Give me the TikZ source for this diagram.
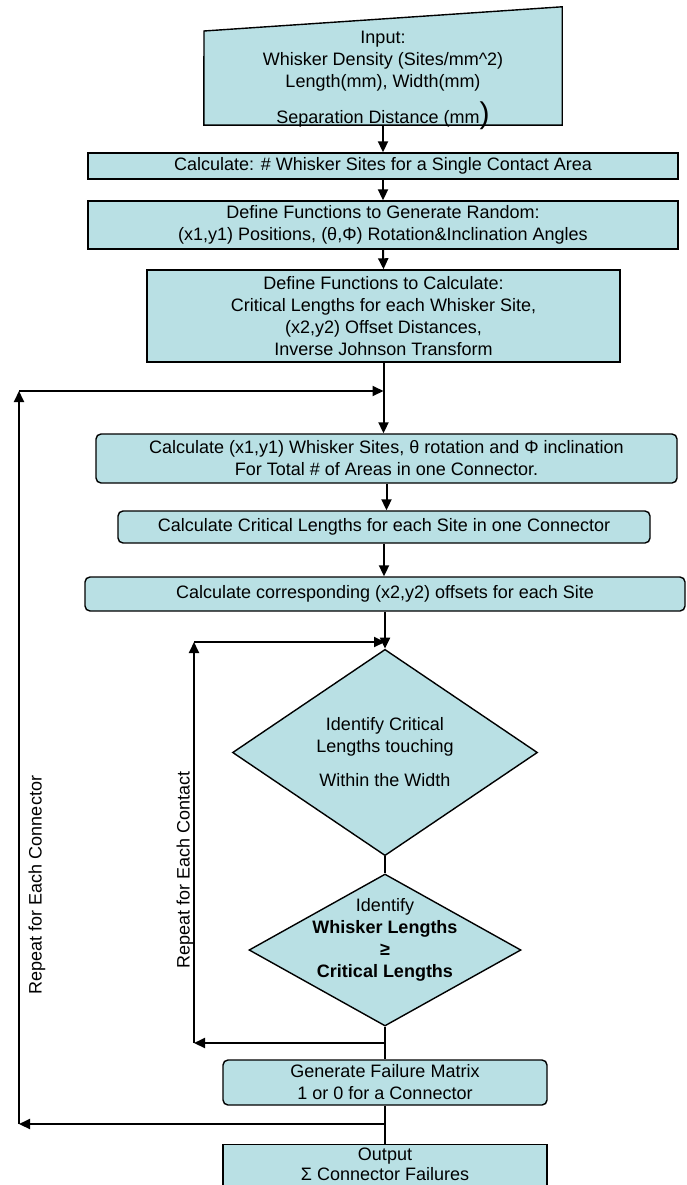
\documentclass[tikz,border=0pt]{standalone}
\usepackage{fontspec}
\setmainfont{Liberation Sans}
\usetikzlibrary{shapes.geometric,arrows.meta}
\definecolor{boxfill}{RGB}{185,224,228}
\begin{document}
\begin{tikzpicture}[x=1pt,y=-1pt,
  every node/.style={font=\fontsize{18}{22}\selectfont, align=center},
  sqbox/.style={draw, line width=1.4pt, fill=boxfill, inner sep=0pt, rectangle},
  rbox/.style={sqbox, rounded corners=5pt},
  dia/.style={draw, line width=1.4pt, fill=boxfill, diamond, inner sep=0pt},
  arr/.style={line width=2pt, -{Triangle[length=11pt,width=10pt]}},
  ln/.style={line width=2pt}]
\useasboundingbox (0,0) rectangle (686,1185);
\clip (0,0) rectangle (686,1185);

% input (manual input shape)
\node[inner sep=0pt, minimum width=358pt, minimum height=118pt] (in) at (383,66) {};
\draw[line width=1.4pt, fill=boxfill] (in.south west) -- (204,31) -- (in.north east) -- (in.south east) -- cycle;
\node[anchor=north, inner sep=0pt] (intext) at (383,30.5)
  {Input:\\Whisker Density (Sites/mm\^{}2)\\Length(mm), Width(mm)\\[10pt]Separation Distance (mm{\fontsize{30}{30}\selectfont )}};

\node[sqbox, minimum width=590pt, minimum height=26pt] (box2) at (383,166)
  {Calculate: \# Whisker Sites for a Single Contact Area};
\node[sqbox, minimum width=590pt, minimum height=48pt] (box3) at (383,225)
  {Define Functions to Generate Random:\\(x1,y1) Positions, (θ,Φ) Rotation\&Inclination Angles};
\node[sqbox, minimum width=473pt, minimum height=92pt] (box4) at (383.5,316)
  {Define Functions to Calculate:\\Critical Lengths for each Whisker Site,\\(x2,y2) Offset Distances,\\Inverse Johnson Transform};
\node[rbox, minimum width=581pt, minimum height=49pt] (box5) at (386.5,458.5)
  {Calculate (x1,y1) Whisker Sites, θ rotation and Φ inclination\\For Total \# of Areas in one Connector.};
\node[rbox, minimum width=532pt, minimum height=32pt] (box6) at (384,527)
  {Calculate Critical Lengths for each Site in one Connector};
\node[rbox, minimum width=600pt, minimum height=34pt] (box7) at (385,594)
  {Calculate corresponding (x2,y2) offsets for each Site};

\node[dia, minimum width=305pt, minimum height=185pt] (d1) at (385,752.5)
  {Identify Critical\\Lengths touching\\[12pt]Within the Width};
\node[dia, minimum width=272pt, minimum height=152pt] (d2) at (385,950) {};
\node[inner sep=0pt] (d2t) at (385,940)
  {Identify\\\textbf{Whisker Lengths}\\\textbf{≥}\\\textbf{Critical Lengths}};

\node[rbox, minimum width=324pt, minimum height=45pt] (gen) at (385,1082.5)
  {Generate Failure Matrix\\1 or 0 for a Connector};
\node[sqbox, anchor=north, minimum width=324pt, minimum height=60pt] (out) at (385,1144) {};
\node[anchor=north, inner sep=0pt, font=\fontsize{18}{19.5}\selectfont] (outtext) at (385,1148)
  {Output\\Σ Connector Failures};

\node[rotate=90] (rc) at (37,885) {Repeat for Each Connector};
\node[rotate=90] (rt) at (185,870) {Repeat for Each Contact};

% loop corners
\coordinate (oc) at (19,391);
\coordinate (ob) at (19,1124);
\coordinate (ic) at (194,642);
\coordinate (ib) at (194,1043);

% main flow
\draw[arr] (in.south) -- (box2.north);
\draw[arr] (box2.south) -- (box3.north);
\draw[arr] (box3.south) -- (box4.north);
\draw[arr] (box4.south) -- (box4.south |- box5.north);
\draw[arr] (box5.south) -- (box5.south |- box6.north);
\draw[arr] (box6.south) -- (box6.south |- box7.north);
\draw[arr] (box7.south) -- (d1.north);
\draw[ln] (d1.south) -- (d2.north);
\draw[ln] (d2.south) -- (gen.north);
\draw[ln] (gen.south) -- (out.north);

% outer loop
\draw[arr] (gen.south |- ob) -- (ob);
\draw[arr] (ob) -- (oc);
\draw[arr] (oc) -- (oc -| box4.south);

% inner loop
\draw[arr] (d2.south |- ib) -- (ib);
\draw[arr] (ib) -- (ic);
\draw[arr] (ic) -- (ic -| d1.north);
\end{tikzpicture}
\end{document}
